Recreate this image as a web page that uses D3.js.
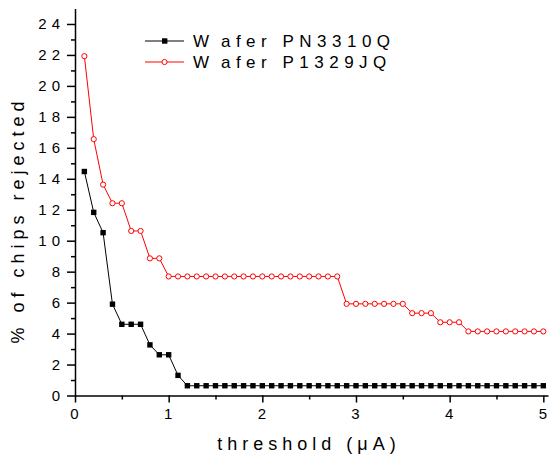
<!DOCTYPE html>
<html>
<head>
<meta charset="utf-8">
<script src="https://cdn.jsdelivr.net/npm/d3@7"></script>
<style>
  body { margin: 0; background: #fff; }
  text { font-family: "Liberation Sans", Arial, sans-serif; fill: #000; }
</style>
</head>
<body>
<div id="chart"></div>
<script>
// threshold values (uA), both wafers measured at the same points
const thresholds = [0.1,0.2,0.3,0.4,0.5,0.6,0.7,0.8,0.9,1.0,
  1.1,1.2,1.3,1.4,1.5,1.6,1.7,1.8,1.9,2.0,
  2.1,2.2,2.3,2.4,2.5,2.6,2.7,2.8,2.9,3.0,
  3.1,3.2,3.3,3.4,3.5,3.6,3.7,3.8,3.9,4.0,
  4.1,4.2,4.3,4.4,4.5,4.6,4.7,4.8,4.9,5.0];

// % of chips rejected, Wafer PN3310Q
const pn3310q = [14.47,11.83,10.52,5.9,4.6,4.6,4.6,3.27,2.63,2.63,
  1.3,0.63,0.63,0.63,0.63,0.63,0.63,0.63,0.63,0.63,
  0.63,0.63,0.63,0.63,0.63,0.63,0.63,0.63,0.63,0.63,
  0.63,0.63,0.63,0.63,0.63,0.63,0.63,0.63,0.63,0.63,
  0.63,0.63,0.63,0.63,0.63,0.63,0.63,0.63,0.63,0.63];

// % of chips rejected, Wafer P1329JQ
const p1329jq = [21.92,16.56,13.62,12.42,12.42,10.63,10.63,8.86,8.86,7.69,
  7.69,7.69,7.69,7.69,7.69,7.69,7.69,7.69,7.69,7.69,
  7.69,7.69,7.69,7.69,7.69,7.69,7.69,7.69,5.92,5.92,
  5.92,5.92,5.92,5.92,5.92,5.32,5.32,5.32,4.73,4.73,
  4.73,4.14,4.14,4.14,4.14,4.14,4.14,4.14,4.14,4.14];

const xTicks = [0,1,2,3,4,5];
const xMinor = [0.5,1.5,2.5,3.5,4.5];
const yTicks = [0,2,4,6,8,10,12,14,16,18,20,22,24];
const yMinor = [1,3,5,7,9,11,13,15,17,19,21,23];

const W = 551, H = 454;
const svg = d3.select("#chart").append("svg")
  .attr("width", W).attr("height", H);

const x = d3.scaleLinear().domain([0, 5.05]).range([75, 548]);
const y = d3.scaleLinear().domain([0, 25]).range([395.5, 8.5]);

// minor ticks first, then the major axis on top
svg.append("g").attr("transform", "translate(0,395.5)")
  .call(d3.axisBottom(x).tickValues(xMinor).tickSize(4).tickFormat(""))
  .call(g => g.select(".domain").remove());
svg.append("g").attr("transform", "translate(75,0)")
  .call(d3.axisLeft(y).tickValues(yMinor).tickSize(4).tickFormat(""))
  .call(g => g.select(".domain").remove());

const xAxis = svg.append("g").attr("transform", "translate(0,395.5)")
  .call(d3.axisBottom(x).tickValues(xTicks).tickFormat(d3.format("d"))
    .tickSize(7).tickSizeOuter(0).tickPadding(6));
const yAxis = svg.append("g").attr("transform", "translate(75,0)")
  .call(d3.axisLeft(y).tickValues(yTicks).tickFormat(d3.format("d"))
    .tickSize(8).tickSizeOuter(0).tickPadding(6));

svg.selectAll(".tick line").attr("stroke", "#000").attr("stroke-width", 1.5);
svg.selectAll(".domain").attr("stroke", "#000").attr("stroke-width", 1.5);
xAxis.selectAll("text")
  .style("font-size", "15px").style("font-family", "Liberation Sans, Arial, sans-serif")
  .attr("dx", "-1");
yAxis.selectAll("text")
  .style("font-size", "15px").style("font-family", "Liberation Sans, Arial, sans-serif")
  .style("letter-spacing", "5px").attr("dx", "4");

const line = d3.line()
  .x((d, i) => x(thresholds[i]))
  .y(d => y(d));

// Wafer PN3310Q - black squares
svg.append("path").datum(pn3310q)
  .attr("fill", "none").attr("stroke", "#000").attr("stroke-width", 1)
  .attr("d", line);
svg.append("g").selectAll("rect").data(pn3310q).join("rect")
  .attr("x", (d, i) => x(thresholds[i]) - 2.7)
  .attr("y", d => y(d) - 2.7)
  .attr("width", 5.4).attr("height", 5.4)
  .attr("fill", "#000");

// Wafer P1329JQ - red open circles
svg.append("path").datum(p1329jq)
  .attr("fill", "none").attr("stroke", "#ff0000").attr("stroke-width", 1)
  .attr("d", line);
svg.append("g").selectAll("circle").data(p1329jq).join("circle")
  .attr("cx", (d, i) => x(thresholds[i]))
  .attr("cy", d => y(d))
  .attr("r", 2.6)
  .attr("fill", "#fff").attr("stroke", "#ff0000").attr("stroke-width", 1);

// axis titles
svg.append("text")
  .attr("x", 309).attr("y", 450)
  .attr("text-anchor", "middle")
  .style("font-size", "18px").style("letter-spacing", "5px")
  .text("threshold (\u03bcA)");

svg.append("text")
  .attr("transform", "translate(24,220) rotate(-90)")
  .attr("text-anchor", "middle")
  .style("font-size", "18px").style("letter-spacing", "5px")
  .text("% of chips rejected");

// legend
const legend = [
  {name: "Wafer PN3310Q", color: "#000", marker: "square", y: 41},
  {name: "Wafer P1329JQ", color: "#ff0000", marker: "circle", y: 62}
];
legend.forEach(l => {
  const g = svg.append("g");
  g.append("line").attr("x1", 145).attr("x2", 184)
    .attr("y1", l.y).attr("y2", l.y)
    .attr("stroke", l.color).attr("stroke-width", 1);
  if (l.marker === "square") {
    g.append("rect").attr("x", 162).attr("y", l.y - 2.7)
      .attr("width", 5.4).attr("height", 5.4).attr("fill", "#000");
  } else {
    g.append("circle").attr("cx", 164.5).attr("cy", l.y).attr("r", 2.6)
      .attr("fill", "#fff").attr("stroke", l.color);
  }
  const t = g.append("text").attr("x", 193).attr("y", l.y + 6)
    .style("font-size", "17px").style("letter-spacing", "5.5px");
  t.append("tspan").text(l.name.slice(0, 1));
  t.append("tspan").attr("dx", 7).text(l.name.slice(1));
});
</script>
</body>
</html>
